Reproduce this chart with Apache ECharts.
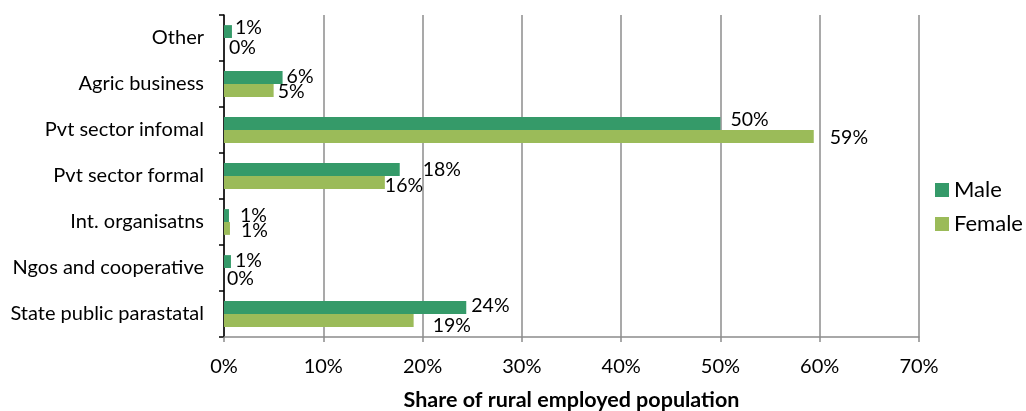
<!DOCTYPE html>
<html>
<head>
<meta charset="utf-8">
<script src="https://cdn.jsdelivr.net/npm/echarts@6/dist/echarts.min.js"></script>
<style>
html,body{margin:0;padding:0;background:#fff;}
#chart{width:1026px;height:411px;}
</style>
</head>
<body>
<div id="chart"></div>
<script>
const categories = ["Other", "Agric business", "Pvt sector infomal", "Pvt sector formal", "Int. organisatns", "Ngos and cooperative", "State public parastatal"];
const maleValues = [0.8, 5.9, 50.0, 17.7, 0.5, 0.7, 24.4];
const femaleValues = [0.0, 5.0, 59.4, 16.2, 0.6, 0.0, 19.1];
const xTicks = [0, 10, 20, 30, 40, 50, 60, 70];

// label nudges (style only): [dx, dy]
const maleLabelShift = [[0,-4],[1,-1],[7,-4],[20,0],[8,0],[1,-1],[2,-2]];
const femaleLabelShift = [[2,3],[1,1],[13,1],[-3,3],[8,2],[0,4],[16,5]];

const FONT = "Lato, 'Open Sans', sans-serif";

function mk(values, shifts) {
  return values.map((v, i) => ({
    value: v,
    label: { offset: shifts[i] }
  }));
}

const chart = echarts.init(document.getElementById('chart'), null, {renderer: 'canvas'});
chart.setOption({
  animation: false,
  textStyle: { fontFamily: FONT },
  grid: { left: 224, right: 107, top: 15, bottom: 74, containLabel: false, outerBoundsMode: 'none' },
  legend: {
    orient: 'vertical',
    left: 935,
    top: 179,
    padding: 0,
    itemWidth: 14,
    itemHeight: 14,
    itemGap: 12,
    icon: 'rect',
    textStyle: { fontFamily: FONT, fontSize: 22, color: '#000' },
    data: ['Male', 'Female']
  },
  xAxis: {
    type: 'value',
    min: xTicks[0],
    max: xTicks[xTicks.length - 1],
    interval: 10,
    name: 'Share of rural employed population',
    nameLocation: 'middle',
    nameGap: 52,
    nameTextStyle: { fontFamily: FONT, fontSize: 21.5, fontWeight: 'bold', color: '#000' },
    axisLine: { show: true, lineStyle: { color: '#8c8c8c', width: 1.5 } },
    axisTick: { show: true, length: 5, lineStyle: { color: '#8c8c8c', width: 1.5 } },
    axisLabel: { formatter: v => v + '%', fontFamily: FONT, fontSize: 20, color: '#000', margin: 20 },
    splitLine: { show: true, lineStyle: { color: '#8c8c8c', width: 1.5 } }
  },
  yAxis: {
    type: 'category',
    inverse: true,
    data: categories,
    name: 'Sector',
    nameLocation: 'middle',
    nameGap: 195,
    nameRotate: 90,
    nameTextStyle: { fontFamily: FONT, fontSize: 21.5, fontWeight: 'bold', color: '#000' },
    axisLine: { show: true, lineStyle: { color: '#000', width: 1.5 } },
    axisTick: { show: true, length: 5, inside: false, lineStyle: { color: '#000', width: 1.5 } },
    axisLabel: { fontFamily: FONT, fontSize: 20, color: '#000', margin: 20 },
    splitLine: { show: false }
  },
  series: [
    {
      name: 'Male',
      type: 'bar',
      data: mk(maleValues, maleLabelShift),
      itemStyle: { color: '#359a69' },
      barGap: '0%',
      barCategoryGap: '44%',
      label: {
        show: true, position: 'right', distance: 3,
        formatter: p => Math.round(p.value) + '%',
        fontFamily: FONT, fontSize: 19.5, color: '#000'
      }
    },
    {
      name: 'Female',
      type: 'bar',
      data: mk(femaleValues, femaleLabelShift),
      itemStyle: { color: '#9bbb59' },
      barGap: '0%',
      barCategoryGap: '44%',
      label: {
        show: true, position: 'right', distance: 3,
        formatter: p => Math.round(p.value) + '%',
        fontFamily: FONT, fontSize: 19.5, color: '#000'
      }
    }
  ]
});
</script>
</body>
</html>
